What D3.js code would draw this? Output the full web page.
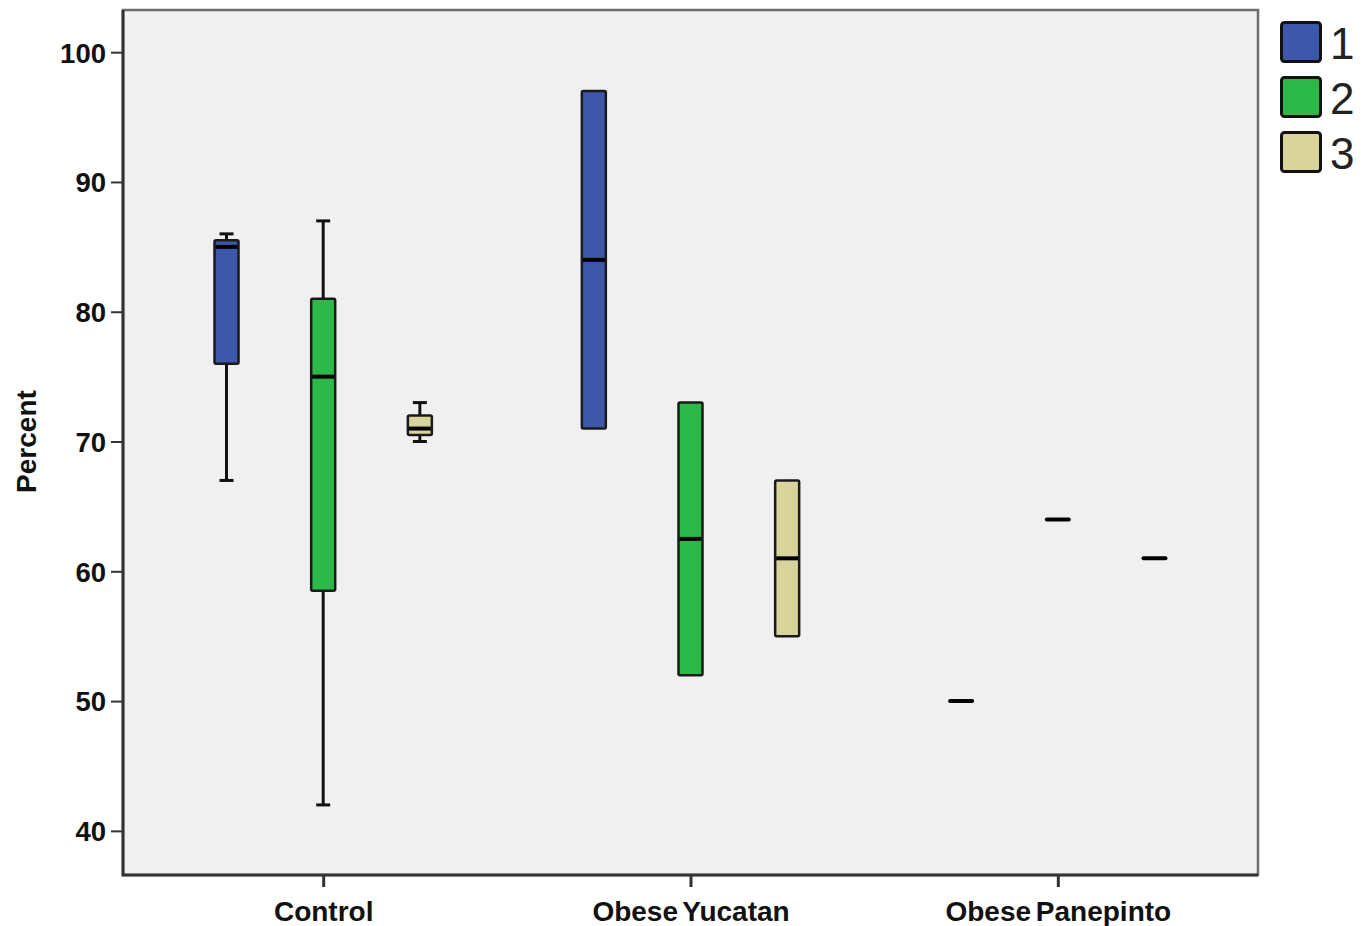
<!DOCTYPE html>
<html>
<head>
<meta charset="utf-8">
<script src="https://cdn.jsdelivr.net/npm/d3@7"></script>
<style>
  html, body { margin: 0; padding: 0; background: #ffffff; }
  svg { display: block; }
</style>
</head>
<body>
<svg id="chart" width="1371" height="926"></svg>
<script>
// Box-plot summaries: one row per group, one column per series (1, 2, 3)
const groups = ["Control", "Obese Yucatan", "Obese Panepinto"];
const series = ["1", "2", "3"];
const whiskerLow  = [[67, 42, 70],   [71, 52, 55],   [50, 64, 61]];
const quartile1   = [[76, 58.5, 70.5], [71, 52, 55], [50, 64, 61]];
const medians     = [[85, 75, 71],   [84, 62.5, 61], [50, 64, 61]];
const quartile3   = [[85.5, 81, 72], [97, 73, 67],   [50, 64, 61]];
const whiskerHigh = [[86, 87, 73],   [97, 73, 67],   [50, 64, 61]];
const yTicks = [40, 50, 60, 70, 80, 90, 100];
const seriesColors = ["#3d58ab", "#2db84a", "#d7d39a"];

const svg = d3.select("#chart");
const plot = { left: 123, top: 10, right: 1258, bottom: 875 };
const font = "'Liberation Sans', Arial, sans-serif";

const x = d3.scalePoint().domain(groups).range([plot.left, plot.right]).padding(0.545);
const xSub = d3.scaleBand().domain(series).range([-145, 145]);
const y = d3.scaleLinear().domain([36.6, 103.25]).range([plot.bottom, plot.top]);
const color = d3.scaleOrdinal().domain(series).range(seriesColors);

// plot background with grey frame
svg.append("rect")
  .attr("x", plot.left).attr("y", plot.top)
  .attr("width", plot.right - plot.left).attr("height", plot.bottom - plot.top)
  .attr("fill", "#f0f0f0").attr("stroke", "#6e6e6e").attr("stroke-width", 2.5);

// flat list of boxes
const boxes = [];
groups.forEach((g, gi) => {
  series.forEach((s, si) => {
    boxes.push({
      group: g, series: s,
      lo: whiskerLow[gi][si], q1: quartile1[gi][si], med: medians[gi][si],
      q3: quartile3[gi][si], hi: whiskerHigh[gi][si]
    });
  });
});

const boxW = 24, capW = 14;
const cx = d => x(d.group) + xSub(d.series) + xSub.bandwidth() / 2;

const item = svg.append("g").selectAll("g.box").data(boxes).join("g").attr("class", "box");

// whiskers and caps
const stem = (sel, a, b) => sel.append("line")
  .attr("x1", cx).attr("x2", cx)
  .attr("y1", d => y(d[a])).attr("y2", d => y(d[b]))
  .attr("stroke", "#111").attr("stroke-width", 3);
const cap = (sel, k) => sel.append("line")
  .attr("x1", d => cx(d) - capW / 2).attr("x2", d => cx(d) + capW / 2)
  .attr("y1", d => y(d[k])).attr("y2", d => y(d[k]))
  .attr("stroke", "#111").attr("stroke-width", 3);
const upper = item.filter(d => d.hi > d.q3);
const lower = item.filter(d => d.lo < d.q1);
stem(upper, "hi", "q3"); cap(upper, "hi");
stem(lower, "lo", "q1"); cap(lower, "lo");

// boxes
item.filter(d => d.q3 > d.q1).append("rect")
  .attr("x", d => cx(d) - boxW / 2).attr("width", boxW)
  .attr("y", d => y(d.q3)).attr("height", d => y(d.q1) - y(d.q3))
  .attr("fill", d => color(d.series))
  .attr("stroke", "#1a1a1a").attr("stroke-width", 2.5).attr("rx", 1.5);

// medians
item.append("line")
  .attr("x1", d => cx(d) - boxW / 2 + 1).attr("x2", d => cx(d) + boxW / 2 - 1)
  .attr("y1", d => y(d.med)).attr("y2", d => y(d.med))
  .attr("stroke", "#000").attr("stroke-width", 4)
  .attr("stroke-linecap", d => d.q3 > d.q1 ? "butt" : "round");

// axes
const yAxis = d3.axisLeft(y).tickValues(yTicks).tickSize(12).tickPadding(5);
const ya = svg.append("g").attr("transform", `translate(${plot.left},0)`).call(yAxis);
ya.select(".domain").remove();
ya.selectAll(".tick line").attr("stroke", "#333").attr("stroke-width", 2);
ya.selectAll(".tick text")
  .attr("font-family", font).attr("dy", "0.36em")
  .attr("font-weight", "bold").attr("font-size", 27.5).attr("fill", "#111");

const xAxis = d3.axisBottom(x).tickSize(12).tickPadding(14);
const xa = svg.append("g").attr("transform", `translate(0,${plot.bottom})`).call(xAxis);
xa.select(".domain").remove();
xa.selectAll(".tick line").attr("stroke", "#333").attr("stroke-width", 3);
xa.selectAll(".tick text")
  .attr("font-family", font)
  .attr("font-weight", "bold").attr("font-size", 28).attr("fill", "#111")
  .attr("word-spacing", -3);

// axis lines (left and bottom, darker)
svg.append("path")
  .attr("d", `M${plot.left},${plot.top} V${plot.bottom} H${plot.right}`)
  .attr("fill", "none").attr("stroke", "#333").attr("stroke-width", 3);

// y axis title
svg.append("text")
  .attr("transform", `translate(36,${(y(40) + y(100)) / 2}) rotate(-90)`)
  .attr("text-anchor", "middle")
  .attr("font-family", font)
  .attr("font-weight", "bold").attr("font-size", 28).attr("fill", "#111")
  .text("Percent");

// legend
const legend = svg.append("g").attr("transform", "translate(1280,21)");
const li = legend.selectAll("g").data(series).join("g")
  .attr("transform", (d, i) => `translate(0,${i * 55})`);
li.append("rect")
  .attr("x", 1.5).attr("y", 1.5).attr("width", 39).attr("height", 39)
  .attr("rx", 3)
  .attr("fill", d => color(d)).attr("stroke", "#111").attr("stroke-width", 3);
li.append("text")
  .attr("x", 50).attr("y", 38)
  .attr("font-family", font)
  .attr("font-size", 44).attr("fill", "#222")
  .text(d => d);
</script>
</body>
</html>
